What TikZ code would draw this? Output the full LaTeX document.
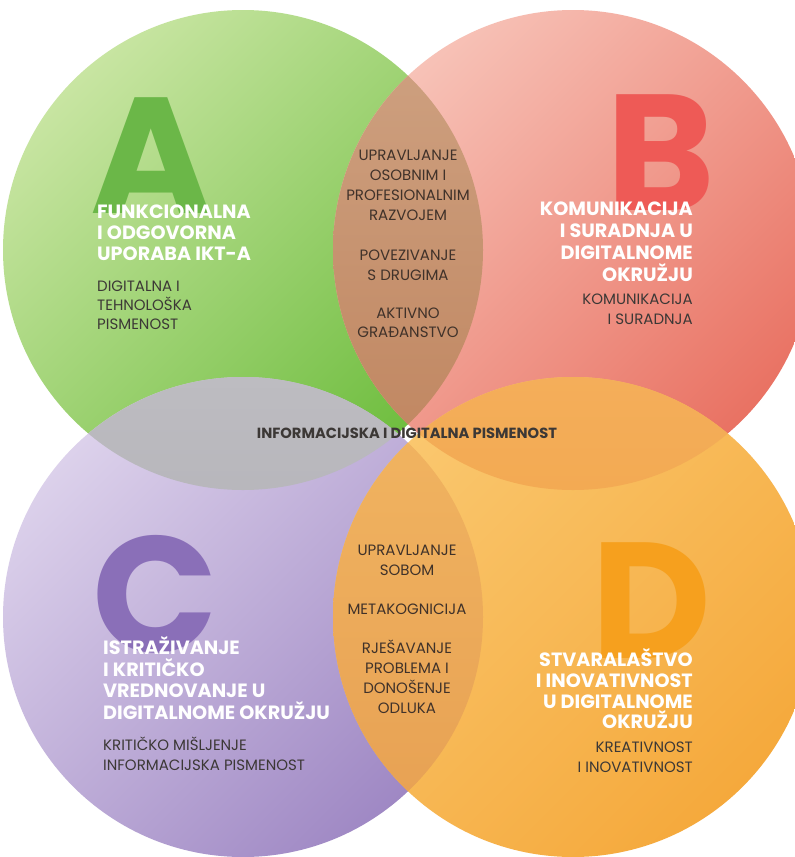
\documentclass[tikz,border=0pt]{standalone}
\usepackage{fontspec}
\setmainfont{Poppins}
\definecolor{Alight}{HTML}{C8E5A2}
\definecolor{Adark}{HTML}{70BE40}
\definecolor{Blight}{HTML}{F7C2B7}
\definecolor{Bdark}{HTML}{E97263}
\definecolor{Clight}{HTML}{DCD1EB}
\definecolor{Cdark}{HTML}{9F88C4}
\definecolor{Dlight}{HTML}{FAC76E}
\definecolor{Ddark}{HTML}{F5A93C}
\definecolor{ABlight}{HTML}{CFA383}
\definecolor{ABdark}{HTML}{BF845E}
\definecolor{AClight}{HTML}{BDBCC1}
\definecolor{ACdark}{HTML}{A6A5AB}
\definecolor{BDlight}{HTML}{F4AE5A}
\definecolor{BDdark}{HTML}{EE9D3C}
\definecolor{CDlight}{HTML}{F2B662}
\definecolor{CDdark}{HTML}{E69F52}
\definecolor{Aletter}{HTML}{6BB748}
\definecolor{Bletter}{HTML}{EE5A56}
\definecolor{Cletter}{HTML}{8A6FB8}
\definecolor{Dletter}{HTML}{F6A01E}
\definecolor{subtext}{HTML}{3C3836}
\definecolor{midtext}{HTML}{40322A}
\tikzset{
  bigletter/.style={inner sep=0pt, font=\bfseries\fontsize{165}{165}\selectfont},
  ttl/.style={inner sep=0pt, text=white, font=\bfseries\fontsize{19.2}{21}\selectfont},
  subt/.style={inner sep=0pt, text=subtext, font=\fontsize{15}{17}\selectfont},
  midt/.style={inner sep=0pt, text=midtext, font=\fontsize{15}{17}\selectfont, anchor=base},
  centt/.style={inner sep=0pt, text=subtext, font=\bfseries\fontsize{14.7}{17}\selectfont, anchor=base}
}
\begin{document}
\begin{tikzpicture}[x=1pt,y=-1pt]
\useasboundingbox (0,0) rectangle (795,857);
\clip (0,0) rectangle (795,857);
\fill[white] (0,0) rectangle (795,857);
\def\R{240}
\coordinate (cA) at (243,250);
\coordinate (cB) at (573,250);
\coordinate (cC) at (243,617);
\coordinate (cD) at (573,617);
% circles
\shade[top color=Alight, bottom color=Adark, shading angle=45] (cA) circle[radius=\R];
\shade[top color=Blight, bottom color=Bdark, shading angle=45] (cB) circle[radius=\R];
\shade[top color=Clight, bottom color=Cdark, shading angle=45] (cC) circle[radius=\R];
\shade[top color=Dlight, bottom color=Ddark, shading angle=45] (cD) circle[radius=\R];
% lenses
\begin{scope}
  \clip (cA) circle[radius=\R];
  \shade[top color=ABlight, bottom color=ABdark] (cB) circle[radius=\R];
\end{scope}
\begin{scope}
  \clip (cA) circle[radius=\R];
  \shade[top color=AClight, bottom color=ACdark] (cC) circle[radius=\R];
\end{scope}
\begin{scope}
  \clip (cB) circle[radius=\R];
  \shade[top color=BDlight, bottom color=BDdark] (cD) circle[radius=\R];
\end{scope}
\begin{scope}
  \clip (cC) circle[radius=\R];
  \shade[top color=CDlight, bottom color=CDdark] (cD) circle[radius=\R];
\end{scope}
% big letters
\node[bigletter, text=Aletter, anchor=north] (LA) at (151,97) {A};
\node[bigletter, text=Bletter, anchor=north] (LB) at (661,94) {B};
\node[bigletter, text=Cletter, anchor=north] (LC) at (155,535) {C};
\node[bigletter, text=Dletter, anchor=north] (LD) at (651,542) {D};
% A block
\foreach \t/\yy [count=\i] in {FUNKCIONALNA/218, I ODGOVORNA/239, UPORABA IKT-A/260}
  \node[ttl, anchor=base west] (At\i) at (97,\yy) {\t};
\foreach \t/\yy [count=\i] in {DIGITALNA I/291, TEHNOLOŠKA/310, PISMENOST/329}
  \node[subt, anchor=base west] (As\i) at (97,\yy) {\t};
% B block
\foreach \t/\yy [count=\i] in {KOMUNIKACIJA/215, I SURADNJA U/237, DIGITALNOME/259, OKRUŽJU/281}
  \node[ttl, anchor=base east] (Bt\i) at (693,\yy) {\t};
\foreach \t/\yy [count=\i] in {KOMUNIKACIJA/304, I SURADNJA/324}
  \node[subt, anchor=base east] (Bs\i) at (693,\yy) {\t};
% C block
\foreach \t/\yy [count=\i] in {ISTRAŽIVANJE/654, I KRITIČKO/676, VREDNOVANJE U/697, DIGITALNOME OKRUŽJU/719}
  \node[ttl, anchor=base west] (Ct\i) at (103,\yy) {\t};
\foreach \t/\yy [count=\i] in {KRITIČKO MIŠLJENJE/750, INFORMACIJSKA PISMENOST/770}
  \node[subt, anchor=base west] (Cs\i) at (103,\yy) {\t};
% D block
\foreach \t/\yy [count=\i] in {STVARALAŠTVO/666, I INOVATIVNOST/687, U DIGITALNOME/708, OKRUŽJU/728}
  \node[ttl, anchor=base east] (Dt\i) at (693,\yy) {\t};
\foreach \t/\yy [count=\i] in {KREATIVNOST/752, I INOVATIVNOST/772}
  \node[subt, anchor=base east] (Ds\i) at (693,\yy) {\t};
% top lens
\foreach \t/\yy [count=\i] in {UPRAVLJANJE/160, OSOBNIM I/180, PROFESIONALNIM/200, RAZVOJEM/220, POVEZIVANJE/260, S DRUGIMA/280, AKTIVNO/318, GRAĐANSTVO/337}
  \node[midt] (Tm\i) at (408,\yy) {\t};
% bottom lens
\foreach \t/\yy [count=\i] in {UPRAVLJANJE/555, SOBOM/575, METAKOGNICIJA/614, RJEŠAVANJE/653, PROBLEMA I/673, DONOŠENJE/693, ODLUKA/713}
  \node[midt] (Bm\i) at (407,\yy) {\t};
% centre
\node[centt] (center) at (407,438) {INFORMACIJSKA I DIGITALNA PISMENOST};
\end{tikzpicture}
\end{document}
